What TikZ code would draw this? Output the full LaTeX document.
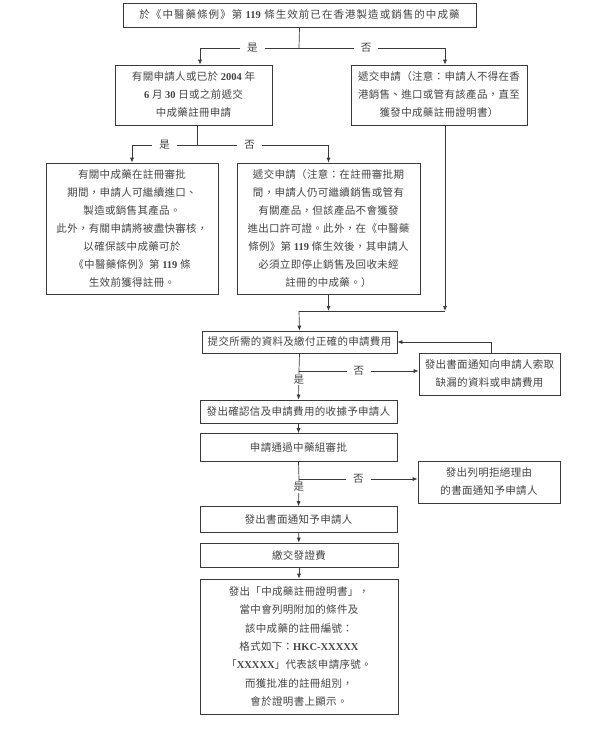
\documentclass[tikz,border=0pt]{standalone}
\usepackage{fontspec}
\setmainfont{Noto Sans CJK TC}[LetterSpace=3]
\newfontfamily\widecjk{Noto Sans CJK TC}[LetterSpace=10]
\newfontfamily\latinbf{Liberation Serif}
\usetikzlibrary{arrows.meta}
\definecolor{linegray}{HTML}{3A3A3A}
\definecolor{textgray}{HTML}{444444}
\newcommand{\nb}[1]{{\latinbf\bfseries #1}}

\begin{document}
\begin{tikzpicture}[x=1pt, y=-1pt,
    box/.style={draw=linegray, line width=0.7pt, text=textgray, align=center,
        inner sep=0pt, font=\fontsize{10.5}{18}\selectfont},
    sz/.style 2 args={minimum width=#1pt, minimum height=#2pt},
    conn/.style={draw=linegray, line width=0.7pt},
    arr/.style={conn, -{Latex[length=5pt,width=4pt]}},
    lbl/.style={fill=white, text=textgray, font=\fontsize{10.5}{12}\selectfont,
        inner xsep=7pt, inner ysep=1pt}]
    \useasboundingbox (0,0) rectangle (600,729);

    % boxes
    \node[box, sz={353}{24}] (origin) at (299.5,15)
        {\widecjk 於《中醫藥條例》第 \nb{119} 條生效前已在香港製造或銷售的中成藥};
    \node[box, sz={157}{60}] (regbefore) at (193.5,95)
        {有關申請人或已於 \nb{2004} 年\\\nb{6} 月 \nb{30} 日或之前遞交\\中成藥註冊申請};
    \node[box, sz={176}{60}] (submitnew) at (439,95)
        {遞交申請（注意：申請人不得在香\\港銷售、進口或管有該產品，直至\\獲發中成藥註冊證明書）};
    \node[box, sz={172}{131}] (continuesale) at (132,228.5)
        {有關中成藥在註冊審批\\期間，申請人可繼續進口、\\製造或銷售其產品。\\此外，有關申請將被盡快審核，\\以確保該中成藥可於\\《中醫藥條例》第 \nb{119} 條\\生效前獲得註冊。};
    \node[box, sz={183}{131}] (submitlate) at (328.5,228.5)
        {遞交申請（注意：在註冊審批期\\間，申請人仍可繼續銷售或管有\\有關產品，但該產品不會獲發\\進出口許可證。此外，在《中醫藥\\條例》第 \nb{119} 條生效後，其申請人\\必須立即停止銷售及回收未經\\註冊的中成藥。）};
    \node[box, sz={195}{22}] (submitdocs) at (299.5,342)
        {提交所需的資料及繳付正確的申請費用};
    \node[box, sz={141}{42}] (requestmissing) at (489.5,374)
        {發出書面通知向申請人索取\\缺漏的資料或申請費用};
    \node[box, sz={197}{23}] (receipt) at (298.5,411.5)
        {發出確認信及申請費用的收據予申請人};
    \node[box, sz={197}{28}] (review) at (298.5,447.5)
        {申請通過中藥組審批};
    \node[box, sz={142}{42}] (reject) at (489,482)
        {發出列明拒絕理由\\的書面通知予申請人};
    \node[box, sz={197}{26}] (notify) at (298.5,519.5)
        {發出書面通知予申請人};
    \node[box, sz={198}{24}] (payfee) at (299,555)
        {繳交發證費};
    \node[box, sz={198}{135}, font=\fontsize{10.5}{18.3}\selectfont] (certificate) at (299,646.5)
        {發出「中成藥註冊證明書」，\\當中會列明附加的條件及\\該中成藥的註冊編號：\\格式如下：\nb{HKC-XXXXX}\\「\nb{XXXXX}」代表該申請序號。\\而獲批准的註冊組別，\\會於證明書上顯示。};

    % split points
    \coordinate (s1) at (299,48);
    \coordinate (lc) at (200,48);
    \coordinate (rc) at (445,48);
    \coordinate (s2) at (197,145);
    \coordinate (m) at (299,311);
    \coordinate (b1) at (299,371);
    \coordinate (b2) at (299,479);

    % first decision
    \draw[conn] (origin.south) -- (s1);
    \draw[arr] (s1) -- node[lbl, pos=0.47]{是} (lc) -- (lc |- regbefore.north);
    \draw[arr] (s1) -- node[lbl, pos=0.46]{否} (rc) -- (rc |- submitnew.north);

    % second decision
    \draw[conn] (s2 |- regbefore.south) -- (s2);
    \draw[arr] (s2) -| node[lbl, pos=0.25]{是} (continuesale.north);
    \draw[arr] (s2) -| node[lbl, pos=0.2]{否} (submitlate.north);

    % merge
    \draw[arr] (submitlate.south) -- (submitlate.south |- m);
    \draw[arr] (rc |- submitnew.south) -- (rc |- m);
    \draw[conn] (m) -- (rc |- m);
    \draw[arr] (m) -- (submitdocs.north);

    % documents check
    \draw[conn] (submitdocs.south) -- (b1);
    \draw[arr] (b1) -- node[lbl]{否} (requestmissing.west |- b1);
    \draw[arr] ([xshift=1.5pt]requestmissing.north) |- (submitdocs.east);
    \draw[arr] (b1) -- node[lbl, pos=0.3]{是} (receipt.north);

    \draw[arr] (receipt) -- (review);

    % approval
    \draw[conn] (review.south) -- (b2);
    \draw[arr] (b2) -- node[lbl]{否} (reject.west |- b2);
    \draw[arr] (b2) -- node[lbl, pos=0.3]{是} (notify.north);

    \draw[arr] (notify) -- (payfee);
    \draw[arr] (payfee) -- (certificate);
\end{tikzpicture}
\end{document}
